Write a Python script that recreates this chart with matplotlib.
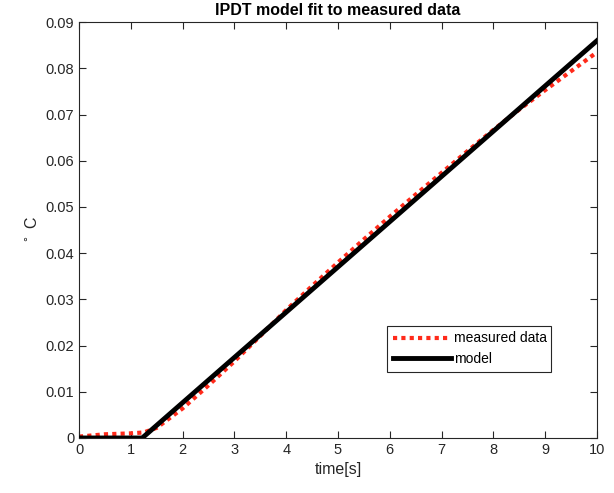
import numpy as np
import matplotlib
matplotlib.use("Agg")
import matplotlib.pyplot as plt

plt.rcParams['font.family'] = ['Liberation Sans', 'DejaVu Sans']

t_meas = [0, 0.5, 1.0, 1.25, 1.5, 2.0, 2.5, 3.0, 3.5, 4.0, 4.5, 5.0,
          5.5, 6.0, 6.5, 7.0, 7.5, 8.0, 8.5, 9.0, 9.5, 10.0]
y_meas = [0.0003, 0.0008, 0.0010, 0.0012, 0.0022, 0.0064, 0.0114, 0.0166,
          0.0221, 0.0277, 0.0329, 0.0380, 0.0430, 0.0479, 0.0527, 0.0574,
          0.0621, 0.0667, 0.0711, 0.0753, 0.0794, 0.0835]

# IPDT model: dead time then ramp
t_model = [0, 1.22, 10.0]
y_model = [0, 0, 0.086]

fig = plt.figure(figsize=(6.14, 4.93), dpi=100)
ax = fig.add_axes([0.1287, 0.1116, 0.8436, 0.8434])

ax.plot(t_meas, y_meas, color='#ff2a1a', lw=3, linestyle=(0, (1, 1)),
        label='measured data', zorder=2)
ax.plot(t_model, y_model, color='black', lw=3.5, label='model', zorder=3)

ax.set_xlim(0, 10)
ax.set_ylim(0, 0.09)
ax.set_xticks(np.arange(0, 11, 1))
ax.set_yticks(np.arange(0, 0.091, 0.01))
ax.set_yticklabels(['0'] + ['%.2f' % v for v in np.arange(0.01, 0.091, 0.01)])
ax.tick_params(direction='in', top=True, right=True, length=5,
               labelsize=10.5, colors='#262626', width=0.8)
for s in ax.spines.values():
    s.set_color('#262626')
    s.set_linewidth(0.8)

ax.set_title('IPDT model fit to measured data', fontsize=11.5,
             fontweight='bold', pad=5)
ax.set_xlabel('time[s]', fontsize=11.5, color='#262626')
ax.set_ylabel(r'$^\circ$ C', fontsize=11.5, color='#262626')

leg = ax.legend(loc='lower left', bbox_to_anchor=(0.595, 0.159, 0.316, 0.113),
                mode='expand', fontsize=10, handlelength=4.2, handletextpad=0.2,
                borderaxespad=0, fancybox=False, framealpha=1, edgecolor='#262626')
leg.get_frame().set_linewidth(0.8)

fig.savefig('out.png', dpi=100)
